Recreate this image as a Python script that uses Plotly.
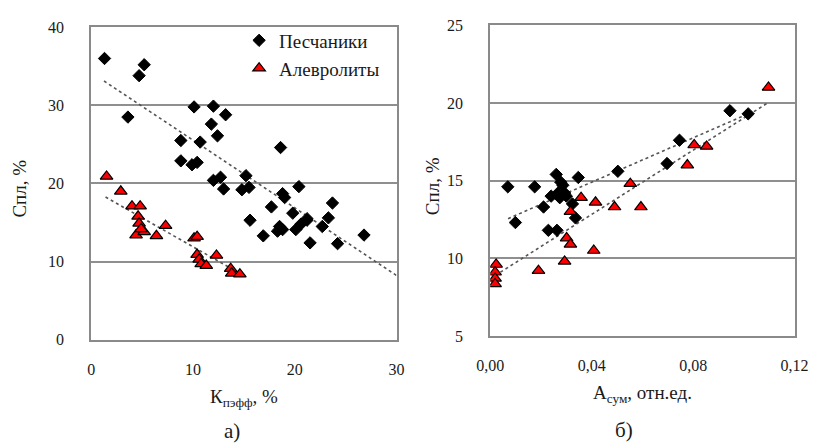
import plotly.graph_objects as go

# ---- panel а): Спл vs Кп.эфф ----
sand_k = [1.3, 3.6, 4.7, 5.2, 10.1, 12.0, 13.2, 11.8, 12.4, 8.8, 10.7, 8.8, 9.9, 10.4,
          12.0, 12.7, 13.0, 15.2, 14.8, 15.5, 18.6, 20.4, 18.8, 19.0, 17.7, 19.8, 23.7,
          23.3, 21.2, 15.6, 16.9, 18.5, 18.3, 18.8, 20.1, 20.6, 21.2, 22.7, 21.5, 24.2, 26.8]
sand_c = [36.0, 28.5, 33.8, 35.2, 29.8, 29.9, 28.8, 27.6, 26.1, 25.5, 25.3, 22.9, 22.4, 22.7,
          20.4, 20.8, 19.3, 21.0, 19.2, 19.5, 24.6, 19.6, 18.7, 18.2, 17.0, 16.2, 17.5,
          15.6, 15.5, 15.3, 13.3, 14.5, 13.9, 14.1, 14.1, 14.8, 15.3, 14.5, 12.4, 12.3, 13.4]

silt_k = [1.5, 2.9, 4.0, 4.8, 4.6, 4.7, 4.4, 5.2, 4.9, 6.4, 7.3, 10.1, 10.4, 10.4, 10.6,
          10.8, 11.3, 12.3, 13.7, 13.8, 14.6]
silt_c = [20.9, 19.0, 17.1, 17.1, 15.8, 14.9, 13.4, 13.8, 14.2, 13.3, 14.6, 13.0, 13.2, 10.9,
          10.3, 9.7, 9.5, 10.8, 9.1, 8.5, 8.4]

# ---- panel б): Спл vs Асум ----
sand_a = [0.0069, 0.0175, 0.0260, 0.0347, 0.0210, 0.0286, 0.0278, 0.0240, 0.0267, 0.0293,
          0.0274, 0.0300, 0.0324, 0.0336, 0.0099, 0.0229, 0.0263, 0.0503, 0.0697, 0.0746,
          0.0945, 0.1017]
sand_c2 = [14.6, 14.6, 15.4, 15.2, 13.3, 14.7, 14.9, 14.0, 14.2, 14.2,
           13.9, 14.0, 13.5, 12.6, 12.3, 11.8, 11.8, 15.6, 16.1, 17.6,
           19.5, 19.3]

silt_a = [0.1097, 0.0804, 0.0853, 0.0777, 0.0552, 0.0358, 0.0415, 0.0490, 0.0594, 0.0316,
          0.0301, 0.0316, 0.0408, 0.0293, 0.0190, 0.0023, 0.0019, 0.0019, 0.0019]
silt_c2 = [21.0, 17.3, 17.2, 16.0, 14.8, 13.9, 13.6, 13.3, 13.3, 13.0,
           11.3, 10.9, 10.5, 9.8, 9.2, 9.6, 9.1, 8.7, 8.35]

# linear trend lines: [slope, intercept] and x extent
trend_a_sand = [-0.866, 34.2]
trend_a_silt = [-0.74, 19.3]
trend_b_sand = [71.3, 12.05]
trend_b_silt = [103.4, 8.69]
span_a_sand = [1.25, 30.0]
span_a_silt = [1.4, 14.6]
span_b_sand = [0.007, 0.1017]
span_b_silt = [0.002, 0.1093]

SERIF = "Liberation Serif, Times New Roman, DejaVu Serif, serif"
TXT = "#1a1a1a"
FRAME = "#8a8a8a"


def trend(coef, span):
    k, b = coef
    return span, [k * x + b for x in span]


fig = go.Figure()

diamond = dict(symbol="diamond", size=9.5, color="black", line=dict(color="black", width=1))
triangle = dict(symbol="triangle-up", size=11, color="#ff0000", line=dict(color="black", width=1.2))
dotted = dict(color="#555555", width=1.6, dash="dot")

# panel а)
tx, ty = trend(trend_a_sand, span_a_sand)
fig.add_trace(go.Scatter(x=tx, y=ty, mode="lines", line=dotted, showlegend=False,
                         xaxis="x", yaxis="y"))
tx, ty = trend(trend_a_silt, span_a_silt)
fig.add_trace(go.Scatter(x=tx, y=ty, mode="lines", line=dotted, showlegend=False,
                         xaxis="x", yaxis="y"))
fig.add_trace(go.Scatter(x=sand_k, y=sand_c, mode="markers", marker=diamond, name="Песчаники",
                         xaxis="x", yaxis="y", legend="legend"))
fig.add_trace(go.Scatter(x=silt_k, y=silt_c, mode="markers", marker=triangle, name="Алевролиты",
                         xaxis="x", yaxis="y", legend="legend2"))

# panel б)
tx, ty = trend(trend_b_sand, span_b_sand)
fig.add_trace(go.Scatter(x=tx, y=ty, mode="lines", line=dotted, showlegend=False,
                         xaxis="x2", yaxis="y2"))
tx, ty = trend(trend_b_silt, span_b_silt)
fig.add_trace(go.Scatter(x=tx, y=ty, mode="lines", line=dotted, showlegend=False,
                         xaxis="x2", yaxis="y2"))
fig.add_trace(go.Scatter(x=sand_a, y=sand_c2, mode="markers", marker=diamond, showlegend=False,
                         xaxis="x2", yaxis="y2"))
fig.add_trace(go.Scatter(x=silt_a, y=silt_c2, mode="markers", marker=triangle, showlegend=False,
                         xaxis="x2", yaxis="y2"))

W, H = 826, 443


def px(x):
    return x / W


def py(y):
    return 1 - y / H


axis_common = dict(showline=True, mirror=True, linecolor=FRAME, linewidth=2,
                   ticks="", tickfont=dict(family=SERIF, size=16, color=TXT),
                   zeroline=False, fixedrange=True)
xax = dict(showgrid=False, ticklabelstandoff=14, **axis_common)
yax = dict(showgrid=True, gridcolor="#8f8f8f", gridwidth=2, ticklabelstandoff=22, **axis_common)

legend_style = dict(xanchor="left", yanchor="top", itemwidth=30, bgcolor="rgba(0,0,0,0)",
                    font=dict(family=SERIF, size=19, color=TXT))

fig.update_layout(
    width=W, height=H,
    margin=dict(l=0, r=0, t=0, b=0),
    paper_bgcolor="white", plot_bgcolor="white",
    separators=", ",
    font=dict(family=SERIF, color=TXT),
    xaxis=dict(domain=[px(80), px(396)], range=[0, 30], tickvals=[0, 10, 20, 30],
               anchor="y", **xax),
    yaxis=dict(domain=[py(345), py(20)], range=[0, 40], tickvals=[0, 10, 20, 30, 40],
               anchor="x", **yax),
    xaxis2=dict(domain=[px(493), px(808)], range=[0, 0.12], tickvals=[0, 0.04, 0.08, 0.12],
                tickformat=".2f", anchor="y2", **xax),
    yaxis2=dict(domain=[py(341), py(18)], range=[5, 25], tickvals=[5, 10, 15, 20, 25],
                anchor="x2", **yax),
    legend=dict(x=px(233), y=py(14), **legend_style),
    legend2=dict(x=px(233), y=py(43), **legend_style),
    showlegend=True,
)

ann_font = dict(family=SERIF, size=19, color=TXT)
ann = dict(xref="paper", yref="paper", showarrow=False, xanchor="center", yanchor="middle")
fig.add_annotation(x=px(238), y=py(406), text="К<sub>пэфф</sub>, %", font=ann_font, **ann)
fig.add_annotation(x=px(651), y=py(401), text="А<sub>сум</sub>, отн.ед.", font=ann_font, **ann)
fig.add_annotation(x=px(6), y=py(188), text="Спл, %", textangle=-90, font=ann_font, **ann)
fig.add_annotation(x=px(434), y=py(185), text="Спл, %", textangle=-90, font=ann_font, **ann)
fig.add_annotation(x=px(226), y=py(440), text="а)",
                   font=dict(family=SERIF, size=21, color=TXT), **ann)
fig.add_annotation(x=px(631), y=py(439), text="б)",
                   font=dict(family=SERIF, size=21, color=TXT), **ann)

fig.write_html("out.html")
